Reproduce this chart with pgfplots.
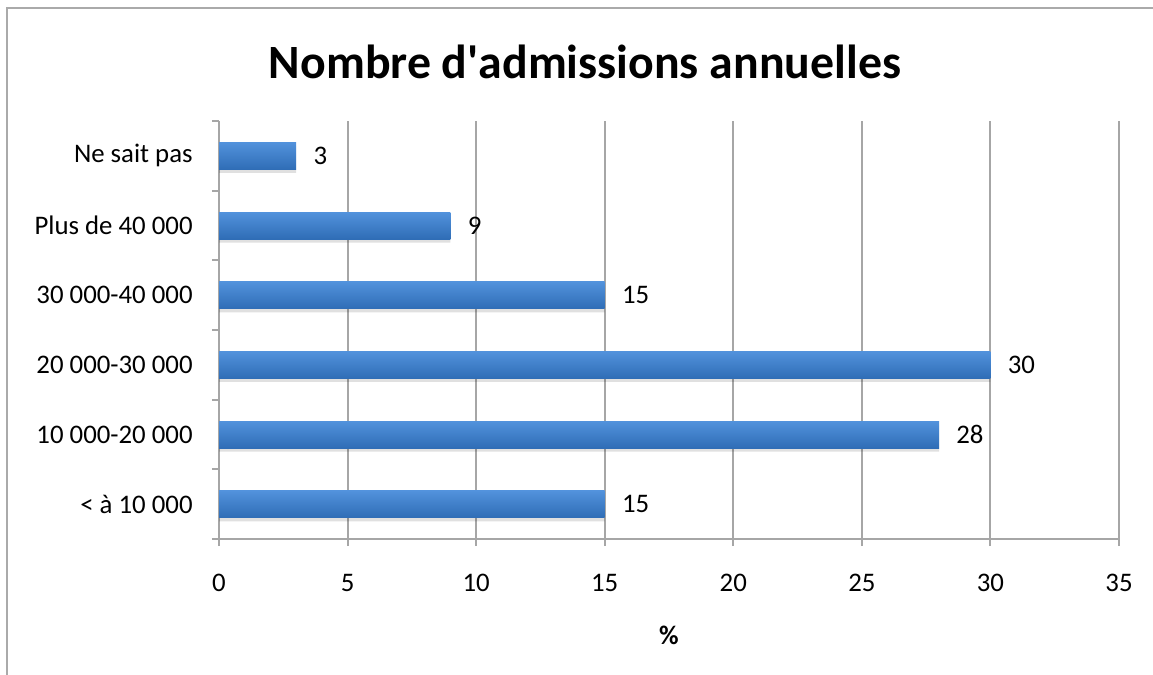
\documentclass[border=0pt]{standalone}
\usepackage{pgfplots}
\pgfplotsset{compat=1.18}
\usepackage{fontspec}
\setmainfont{Carlito}
\definecolor{gridgray}{RGB}{166,166,166}
\definecolor{framegray}{RGB}{170,170,170}
\definecolor{bartop}{RGB}{82,146,220}
\definecolor{barmid}{RGB}{62,129,207}
\definecolor{barbot}{RGB}{47,109,182}
\newcommand{\lblfont}{\fontsize{13.4bp}{16bp}\selectfont}
\begin{document}
\begin{tikzpicture}
\path[use as bounding box] (0,0) rectangle (576.5bp,337.5bp);
\draw[framegray, line width=1.25bp] (3.5bp,0) -- (3.5bp,333.5bp) -- (576.5bp,333.5bp);
\node[font=\fontsize{23.9bp}{28bp}\selectfont\bfseries] at (292.5bp,306.5bp) {Nombre d\textquotesingle admissions annuelles};
\begin{axis}[
  at={(109.5bp,68bp)}, anchor=south west,
  scale only axis, width=450bp, height=209bp,
  xbar, bar width=13.5bp,
  xmin=0, xmax=35, ymin=-0.5, ymax=5.5,
  xtick={0,5,...,35},
  ytick={0,...,5},
  yticklabels={{< à 10 000},{10 000-20 000},{20 000-30 000},{30 000-40 000},{Plus de 40 000},{Ne sait pas}},
  minor ytick={-0.5,0.5,...,5.5},
  tick align=outside,
  major tick length=3.5bp, minor tick length=3.5bp,
  major y tick style={draw=none},
  tick style={gridgray, line width=1bp},
  xmajorgrids, major grid style={gridgray, line width=1bp},
  axis x line*=bottom, axis y line*=left,
  axis line style={gridgray, line width=1bp, -},
  /pgf/number format/assume math mode=true,
  tick label style={font=\lblfont, text=black},
  yticklabel style={anchor=east, inner sep=0pt, xshift=-9.5bp},
  xticklabel style={anchor=north, inner sep=0pt, yshift=-13.75bp},
  xlabel={\%},
  xlabel style={font=\lblfont\bfseries, at={(axis description cs:0.5,0)}, anchor=center, yshift=-48bp},
  clip=false,
  shadowbar/.style={xbar, bar width=13.5bp, bar shift=-1.8bp, draw=none, fill=black, fill opacity=0.12, forget plot},
  mainbar/.style={xbar, bar width=13.5bp, bar shift=0pt, draw=none, top color=bartop, middle color=barmid, bottom color=barbot,
    nodes near coords,
    every node near coord/.append style={font=\lblfont, text=black, anchor=west, inner sep=0pt, xshift=8.5bp}},
]
\addplot[shadowbar] coordinates {(15,0) (28,1) (30,2) (15,3) (9,4) (3,5)};
\addplot[mainbar] coordinates {(15,0)};
\addplot[mainbar] coordinates {(28,1)};
\addplot[mainbar] coordinates {(30,2)};
\addplot[mainbar] coordinates {(15,3)};
\addplot[mainbar] coordinates {(9,4)};
\addplot[mainbar] coordinates {(3,5)};
\end{axis}
\end{tikzpicture}
\end{document}
